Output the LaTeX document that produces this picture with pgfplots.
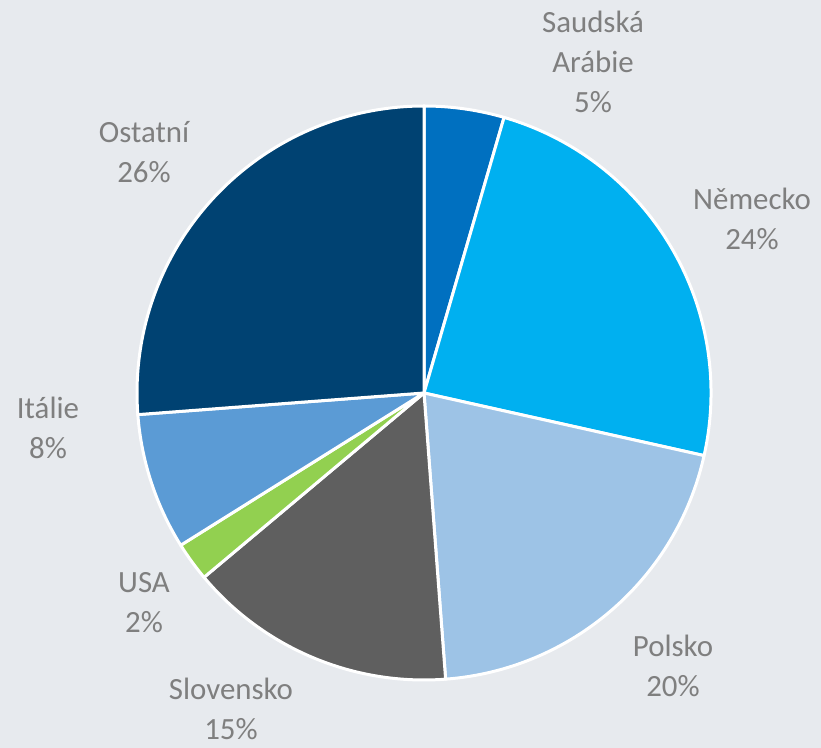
\documentclass[border=0pt]{standalone}
\usepackage{pgfplots}
\pgfplotsset{compat=1.18}
\usepackage{pgfplotstable}
\usepackage{fontspec}
\setmainfont{Carlito}

\definecolor{bg}{HTML}{E7EAEE}
\definecolor{txt}{HTML}{7F7F7F}
\definecolor{cSA}{HTML}{0070C0}
\definecolor{cDE}{HTML}{00B0F0}
\definecolor{cPL}{HTML}{9DC3E6}
\definecolor{cSK}{HTML}{5F5F5F}
\definecolor{cUS}{HTML}{92D050}
\definecolor{cIT}{HTML}{5B9BD5}
\definecolor{cOT}{HTML}{004272}

% podíly (%), po směru hodinových ručiček od 12 h
\pgfplotstableread[col sep=comma]{
name,value,col
SA,4.5,cSA
DE,24.0,cDE
PL,20.3,cPL
SK,15.1,cSK
US,2.2,cUS
IT,7.7,cIT
OT,26.2,cOT
}\piedata

\begin{document}
\begin{tikzpicture}
\begin{axis}[
    width=821bp, height=748bp,
    scale only axis,
    xmin=0, xmax=821,
    ymin=0, ymax=748,
    hide axis,
    clip=false,
]
    \fill[bg] (axis cs:0,0) rectangle (axis cs:821,748);

    \gdef\cum{0}
    \pgfplotsforeachungrouped \i in {0,...,6}{
        \pgfplotstablegetelem{\i}{value}\of\piedata \let\v\pgfplotsretval
        \pgfplotstablegetelem{\i}{col}\of\piedata \let\c\pgfplotsretval
        \pgfmathsetmacro\a{90-3.6*\cum}
        \pgfmathsetmacro\b{90-3.6*(\cum+\v)}
        \edef\temp{\noexpand\filldraw[fill=\c, draw=white, line width=3bp, line join=round]
            (axis cs:424,355) -- ++(\a:287bp) arc[start angle=\a, end angle=\b, radius=287bp] -- cycle;}
        \temp
        \pgfmathsetmacro\newcum{\cum+\v}
        \xdef\cum{\newcum}
    }

    \tikzset{lbl/.style={text=txt, font=\fontsize{31}{40}\selectfont, align=center, inner sep=0pt}}
    \node[lbl] at (axis cs:593,686) {Saudská\\Arábie\\5\%};
    \node[lbl] at (axis cs:752,529) {Německo\\24\%};
    \node[lbl] at (axis cs:673,82) {Polsko\\20\%};
    \node[lbl] at (axis cs:231,39) {Slovensko\\15\%};
    \node[lbl] at (axis cs:144,145) {USA\\2\%};
    \node[lbl] at (axis cs:48,320) {Itálie\\8\%};
    \node[lbl] at (axis cs:144,596) {Ostatní\\26\%};
\end{axis}
\end{tikzpicture}
\end{document}
